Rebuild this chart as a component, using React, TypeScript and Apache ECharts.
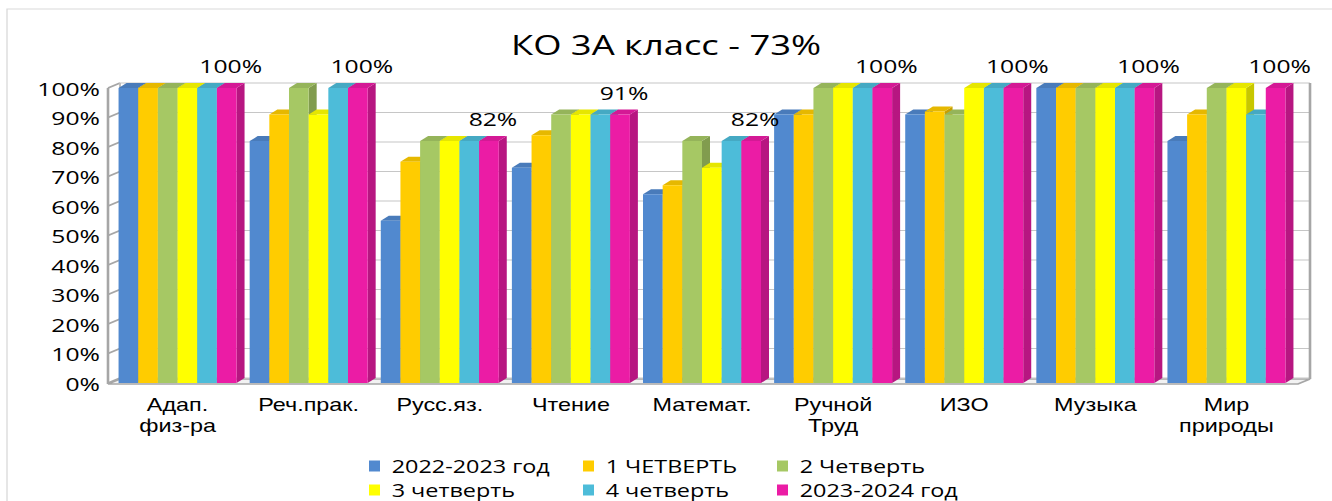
import React, { useEffect, useRef } from "react";
import * as echarts from "echarts";

const categories = [
  "Адап.\nфиз-ра",
  "Реч.прак.",
  "Русс.яз.",
  "Чтение",
  "Математ.",
  "Ручной\nТруд",
  "ИЗО",
  "Музыка",
  "Мир\nприроды",
];

const seriesNames = [
  "2022-2023 год",
  "1 ЧЕТВЕРТЬ",
  "2 Четверть",
  "3 четверть",
  "4 четверть",
  "2023-2024 год",
];

const year2022 = [100, 82, 55, 73, 64, 91, 91, 100, 82];
const quarter1 = [100, 91, 75, 84, 67, 91, 92, 100, 91];
const quarter2 = [100, 100, 82, 91, 82, 100, 91, 100, 100];
const quarter3 = [100, 91, 82, 91, 73, 100, 100, 100, 100];
const quarter4 = [100, 100, 82, 91, 82, 100, 100, 100, 91];
const year2023 = [100, 100, 82, 91, 82, 100, 100, 100, 100];

const seriesValues = [year2022, quarter1, quarter2, quarter3, quarter4, year2023];
const colors = ["#5189CF", "#FFCC00", "#A6C864", "#FFFF00", "#4DBCD9", "#EB1CA5"];
const yTicks = [0, 10, 20, 30, 40, 50, 60, 70, 80, 90, 100];
const titleText = "КО 3А класс - 73%";

const FONT = "Open Sans";
const LABEL_FONT = "Liberation Sans";

// The picture is a horizontally stretched chart: draw narrower, stretch with CSS.
const PAGE_W = 1332;
const PAGE_H = 501;
const CHART_W = 1025;
const K = PAGE_W / CHART_W;
const sx = (px: number) => px / K;

function shade(hex: string, f: number) {
  const n = parseInt(hex.slice(1), 16);
  const r = Math.round(((n >> 16) & 255) * f);
  const g = Math.round(((n >> 8) & 255) * f);
  const b = Math.round((n & 255) * f);
  return `rgb(${r},${g},${b})`;
}

const DX = sx(8); // bar depth x
const DY = 5; // bar depth y
const WX = sx(12); // wall depth x
const WY = 5; // wall depth y
const FRONT = sx(4);

export default function App() {
  const ref = useRef<HTMLDivElement>(null);

  useEffect(() => {
    if (!ref.current) return;
    const chart = echarts.init(ref.current, null, { renderer: "svg" });

    const frameSeries: any = {
      type: "custom",
      name: "frame",
      silent: true,
      z: 1,
      data: [[0, 0]],
      encode: { x: 0, y: 1 },
      renderItem: (params: any, api: any) => {
        const cs = params.coordSys;
        const children: any[] = [];
        const fx = cs.x - FRONT;
        const bx = fx + WX;
        const frx = cs.x + cs.width + sx(6);
        const rx = frx + WX;
        const y0 = api.coord([0, 0])[1];
        const y100 = api.coord([0, 100])[1];
        children.push({
          type: "polygon",
          shape: {
            points: [
              [fx, y0 + 1],
              [frx, y0 + 1],
              [rx, y0 + 1 - WY],
              [bx, y0 + 1 - WY],
            ],
          },
          style: { fill: "#f2f2f2", stroke: "#a6a6a6", lineWidth: 1.5 },
        });
        yTicks.forEach((v) => {
          const y = api.coord([0, v])[1];
          children.push({
            type: "line",
            shape: { x1: bx, y1: y - WY, x2: rx, y2: y - WY },
            style: { stroke: "#c6c6c6", lineWidth: 1 },
          });
          children.push({
            type: "line",
            shape: { x1: fx, y1: y, x2: bx, y2: y - WY },
            style: { stroke: "#a6a6a6", lineWidth: 1.5 },
          });
        });
        children.push({
          type: "line",
          shape: { x1: fx, y1: y100, x2: fx, y2: y0 + 1 },
          style: { stroke: "#a6a6a6", lineWidth: 2 },
        });
        children.push({
          type: "line",
          shape: { x1: bx, y1: y100 - WY, x2: bx, y2: y0 - WY },
          style: { stroke: "#bdbdbd", lineWidth: 1.5 },
        });
        children.push({
          type: "line",
          shape: { x1: rx, y1: y100 - WY, x2: rx, y2: y0 + 1 - WY },
          style: { stroke: "#a6a6a6", lineWidth: 2 },
        });
        return { type: "group", children };
      },
    };

    const barSeries = seriesValues.map((vals, s) => ({
      type: "custom",
      name: seriesNames[s],
      z: 2,
      itemStyle: { color: colors[s] },
      data: vals.map((v, i) => [i, v]),
      encode: { x: 0, y: 1 },
      renderItem: (params: any, api: any) => {
        const idx = api.value(0);
        const val = api.value(1);
        const top = api.coord([idx, val]);
        const base = api.coord([idx, 0]);
        const catW = api.size([1, 0])[0];
        const pitch = catW * 0.15;
        const x = top[0] + (s - 3) * pitch;
        const w = pitch;
        const y = top[1];
        const y0 = base[1];
        const c = colors[s];
        const children: any[] = [
          {
            type: "polygon",
            shape: {
              points: [
                [x + w, y],
                [x + w + DX, y - DY],
                [x + w + DX, y0 - DY],
                [x + w, y0],
              ],
            },
            style: { fill: shade(c, 0.78) },
          },
          {
            type: "polygon",
            shape: {
              points: [
                [x, y],
                [x + DX, y - DY],
                [x + w + DX, y - DY],
                [x + w, y],
              ],
            },
            style: { fill: shade(c, 0.9) },
          },
          {
            type: "rect",
            shape: { x, y, width: w, height: y0 - y },
            style: { fill: c },
          },
        ];
        if (s === seriesValues.length - 1) {
          children.push({
            type: "text",
            style: {
              text: `${val}%`,
              x: x + w / 2 + DX / 2,
              y: y - 13,
              align: "center",
              verticalAlign: "bottom",
              fill: "#000",
              font: `19px "${FONT}"`,
            },
          });
        }
        return { type: "group", children };
      },
    }));

    const legendCols = [369, 583, 777].map(sx);
    const legendRows = [457, 481];
    const legends = seriesNames.map((name, i) => ({
      data: [name],
      left: legendCols[i % 3],
      top: legendRows[Math.floor(i / 3)],
      padding: 0,
      icon: "rect",
      itemWidth: sx(11),
      itemHeight: 11,
      itemGap: 0,
      selectedMode: false,
      textStyle: {
        fontSize: 18,
        lineHeight: 18,
        color: "#000",
        fontFamily: FONT,
        padding: [0, 0, 0, 4],
      },
    }));

    chart.setOption({
      animation: false,
      color: colors,
      backgroundColor: "#ffffff",
      title: {
        text: titleText,
        left: "center",
        top: 30,
        padding: 0,
        textStyle: { fontSize: 28, fontWeight: "normal", color: "#000", fontFamily: FONT },
      },
      graphic: [
        {
          type: "rect",
          shape: { x: sx(7), y: 9, width: 1400, height: 600 },
          style: { fill: "none", stroke: "#d9d9d9", lineWidth: 1 },
          silent: true,
        },
      ],
      legend: legends,
      grid: { left: sx(112), right: sx(40), top: 88, bottom: 118 },
      xAxis: {
        type: "category",
        data: categories,
        axisLine: { show: false },
        axisTick: { show: false },
        axisLabel: {
          color: "#000",
          fontSize: 18,
          lineHeight: 21,
          margin: 11,
          fontFamily: LABEL_FONT,
          interval: 0,
        },
      },
      yAxis: {
        type: "value",
        min: 0,
        max: 100,
        interval: 10,
        axisLine: { show: false },
        axisTick: { show: false },
        splitLine: { show: false },
        axisLabel: {
          formatter: "{value}%",
          color: "#000",
          fontSize: 19,
          margin: sx(12),
          fontFamily: FONT,
        },
      },
      series: [frameSeries, ...barSeries],
    });

    return () => chart.dispose();
  }, []);

  return (
    <div
      ref={ref}
      style={{
        position: "absolute",
        left: 0,
        top: 0,
        width: CHART_W,
        height: PAGE_H,
        transform: `scaleX(${K})`,
        transformOrigin: "0 0",
      }}
    />
  );
}
